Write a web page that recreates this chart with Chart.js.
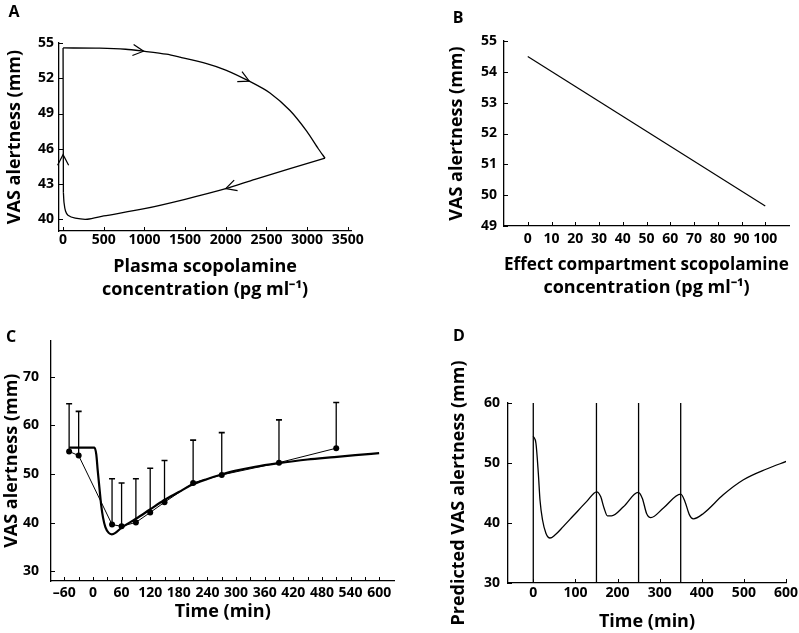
<!DOCTYPE html>
<html>
<head>
<meta charset="utf-8">
<script src="https://cdn.jsdelivr.net/npm/chart.js@4.4.1/dist/chart.umd.min.js"></script>
<style>
  html, body { margin: 0; padding: 0; background: #fff; }
  body { width: 799px; height: 633px; position: relative; overflow: hidden; font-family: "Open Sans", sans-serif; }
  .panel { position: absolute; }
  .panel canvas { display: block; }
  .letter { position: absolute; font: bold 16px "Open Sans", sans-serif; line-height: 1; transform: translate(-50%, -50%); color: #000; }
</style>
</head>
<body>
<div class="panel" style="left:0;top:0;"><canvas id="chartA" width="400" height="310"></canvas></div>
<div class="panel" style="left:400px;top:0;"><canvas id="chartB" width="399" height="310"></canvas></div>
<div class="panel" style="left:0;top:320px;"><canvas id="chartC" width="400" height="313"></canvas></div>
<div class="panel" style="left:400px;top:320px;"><canvas id="chartD" width="420" height="313"></canvas></div>
<div class="letter" style="left:14px;top:11px;">A</div>
<div class="letter" style="left:458px;top:17px;">B</div>
<div class="letter" style="left:11px;top:336px;">C</div>
<div class="letter" style="left:459px;top:335px;">D</div>
<script>
// Panel A: hysteresis loop, plasma concentration (pg/ml) vs VAS alertness (mm)
const loopConc = [0, 450, 770, 990, 1270, 1436, 1765, 2000, 2289, 2544, 2790, 2995, 3138, 3221,
                  2359, 2000, 1500, 1000, 500, 300, 150, 60, 30, 12, 4, 0];
const loopVas  = [54.58, 54.56, 54.47, 54.3, 54.05, 53.8, 53.25, 52.7, 51.75, 50.75, 49.25, 47.5, 46.0, 45.2,
                  43.4, 42.6, 41.7, 40.9, 40.28, 40.0, 40.09, 40.34, 40.7, 41.4, 42.3, 54.58];
const arrowConc = [990, 2289, 2000, 0];
const arrowVas  = [54.3, 51.75, 42.6, 45.5];
const ticksA_x = [0, 500, 1000, 1500, 2000, 2500, 3000, 3500];
const ticksA_y = [40, 43, 46, 49, 52, 55];

// Panel B: effect compartment concentration vs VAS alertness
const effConc = [0, 100];
const effVas  = [54.5, 49.65];
const ticksB_x = [0, 10, 20, 30, 40, 50, 60, 70, 80, 90, 100];
const ticksB_y = [49, 50, 51, 52, 53, 54, 55];

// Panel C: observed means (+SD) and model fit over time
const obsTime = [-50, -30, 40, 60, 90, 120, 150, 210, 270, 390, 510];
const obsMean = [54.66, 53.8, 39.6, 39.26, 40.05, 42.1, 44.2, 48.18, 49.83, 52.35, 55.32];
const obsSd   = [9.8, 9.1, 9.45, 8.9, 9.0, 9.1, 8.6, 8.8, 8.7, 8.8, 9.4];
const modelTime = [-50, 3, 7, 10, 14, 17.5, 21, 26, 33, 39.5, 47, 59, 90, 118, 149, 180, 205, 240, 266,
                   300, 340, 386, 450, 506, 550, 600];
const modelVas  = [55.45, 55.45, 54.0, 50.7, 46.7, 43.4, 41.1, 39.1, 37.9, 37.6, 37.9, 38.9, 40.8, 42.6, 44.6,
                   46.3, 47.7, 49.0, 49.8, 50.7, 51.5, 52.2, 53.0, 53.5, 53.9, 54.3];
const ticksC_x = [-60, -30, 0, 30, 60, 90, 120, 150, 180, 210, 240, 270, 300, 330, 360, 390, 420, 450,
                  480, 510, 540, 570, 600];
const ticksC_y = [30, 40, 50, 60, 70];

// Panel D: predicted VAS with repeated doses
const predTime = [0, 6.4, 12, 16, 22, 30, 39.7, 51.5, 71, 95, 127, 150.5, 160, 168, 176, 186, 214, 249,
                  259, 269, 279, 309, 350, 360, 370.5, 380, 404, 451, 499, 554, 602];
const predVas  = [54.47, 53.25, 48.3, 43.8, 40.5, 38.3, 37.5, 38.0, 39.4, 41.2, 43.6, 45.2, 44.4, 42.5,
                  41.2, 41.2, 42.7, 45.1, 44.1, 41.6, 40.9, 42.5, 44.8, 43.6, 41.4, 40.7, 41.6, 44.7,
                  47.2, 49.0, 50.3];
const doseTimes = [0, 150, 250, 350];
const ticksD_x = [0, 100, 200, 300, 400, 500, 600];
const ticksD_y = [30, 40, 50, 60];

Chart.defaults.font.family = '"Open Sans", sans-serif';
Chart.defaults.color = '#000';

const tickFont = { size: 14, weight: 'bold', lineHeight: 1.2 };
const titleFont = { size: 18, weight: 'bold', lineHeight: 1.25 };

// tick marks in these figures point into the plot area
const inwardTicks = {
  id: 'inwardTicks',
  afterDraw(chart) {
    const ctx = chart.ctx;
    ctx.save();
    ctx.strokeStyle = '#000';
    ctx.lineWidth = 1;
    Object.values(chart.scales).forEach(scale => {
      scale.ticks.forEach(t => {
        const p = Math.round(scale.getPixelForValue(t.value)) + 0.5;
        ctx.beginPath();
        if (scale.isHorizontal()) {
          ctx.moveTo(p, scale.top);
          ctx.lineTo(p, scale.top - 4);
        } else {
          ctx.moveTo(scale.right, p);
          ctx.lineTo(scale.right + 4, p);
        }
        ctx.stroke();
      });
    });
    ctx.restore();
  }
};

// open chevrons along the loop in panel A, pointing in the direction of travel
const loopArrows = {
  id: 'loopArrows',
  afterDatasetsDraw(chart) {
    const xs = chart.scales.x, ys = chart.scales.y, ctx = chart.ctx;
    const pts = loopConc.map((c, i) => ({ x: xs.getPixelForValue(c), y: ys.getPixelForValue(loopVas[i]) }));
    ctx.save();
    ctx.strokeStyle = '#000';
    ctx.lineWidth = 1.2;
    arrowConc.forEach((c, k) => {
      const ax = xs.getPixelForValue(c), ay = ys.getPixelForValue(arrowVas[k]);
      let best = Infinity, ang = 0;
      for (let i = 0; i < pts.length - 1; i++) {
        const a = pts[i], b = pts[i + 1];
        const dx = b.x - a.x, dy = b.y - a.y;
        const len2 = dx * dx + dy * dy || 1;
        const t = Math.max(0, Math.min(1, ((ax - a.x) * dx + (ay - a.y) * dy) / len2));
        const d = Math.hypot(a.x + t * dx - ax, a.y + t * dy - ay);
        if (d < best) { best = d; ang = Math.atan2(dy, dx); }
      }
      const L = 12, spread = 0.48;
      ctx.beginPath();
      ctx.moveTo(ax - L * Math.cos(ang - spread), ay - L * Math.sin(ang - spread));
      ctx.lineTo(ax, ay);
      ctx.lineTo(ax - L * Math.cos(ang + spread), ay - L * Math.sin(ang + spread));
      ctx.stroke();
    });
    ctx.restore();
  }
};

function dash(v) {
  return String(v).replace('-', '\u2013');
}

function axis(min, max, tickValues, fitSize, labelPad, title, titlePad, showLabel) {
  return {
    type: 'linear',
    min: min,
    max: max,
    grid: { display: false, drawTicks: false },
    border: { display: true, color: '#000', width: 1.3 },
    ticks: {
      padding: labelPad,
      color: '#000',
      font: tickFont,
      autoSkip: false,
      maxRotation: 0,
      minRotation: 0,
      callback: v => (showLabel && !showLabel(v)) ? '' : dash(v)
    },
    afterBuildTicks: s => { s.ticks = tickValues.map(v => ({ value: v })); },
    afterFit: s => { if (s.isHorizontal()) s.height = fitSize; else s.width = fitSize; },
    title: { display: true, text: title, color: '#000', font: titleFont, padding: titlePad }
  };
}

function baseOptions(padding, xScale, yScale) {
  return {
    responsive: false,
    animation: false,
    events: [],
    layout: { padding: padding },
    plugins: { legend: { display: false }, tooltip: { enabled: false } },
    scales: { x: xScale, y: yScale }
  };
}

function xy(xsArr, ysArr) {
  return xsArr.map((x, i) => ({ x: x, y: ysArr[i] }));
}

// ---- A ----
// split the loop at its right-hand corner so both arcs can be smoothed without rounding the corners
const turn = loopConc.indexOf(Math.max(...loopConc));
const loopLine = { showLine: true, borderColor: '#000', borderWidth: 1.3, pointRadius: 0, tension: 0.25 };
new Chart(document.getElementById('chartA'), {
  type: 'scatter',
  data: {
    datasets: [
      Object.assign({ data: xy(loopConc.slice(0, turn + 1), loopVas.slice(0, turn + 1)) }, loopLine),
      Object.assign({ data: xy(loopConc.slice(turn, -1), loopVas.slice(turn, -1)) }, loopLine),
      Object.assign({ data: xy(loopConc.slice(-2), loopVas.slice(-2)) }, loopLine)
    ]
  },
  options: baseOptions({ left: 0, top: 43, right: 49, bottom: 0 },
    axis(-50, 3540, ticksA_x, 79, 1, ['Plasma scopolamine', 'concentration (pg ml\u207B\u00B9)'], { top: 0, bottom: 9 }),
    axis(39, 55, ticksA_y, 59, 5, 'VAS alertness (mm)', { top: 4, bottom: 0 })),
  plugins: [inwardTicks, loopArrows]
});

// ---- B ----
new Chart(document.getElementById('chartB'), {
  type: 'scatter',
  data: {
    datasets: [{
      data: xy(effConc, effVas),
      showLine: true, borderColor: '#000', borderWidth: 1.2, pointRadius: 0
    }]
  },
  options: baseOptions({ left: 0, top: 41, right: 10, bottom: 0 },
    axis(-10, 110, ticksB_x, 84, 5, ['Effect compartment scopolamine', 'concentration (pg ml\u207B\u00B9)'], { top: 0, bottom: 11 }),
    axis(49, 55, ticksB_y, 104, 7, 'VAS alertness (mm)', { top: 46, bottom: 0 })),
  plugins: [inwardTicks]
});

// ---- C ----
const stems = [];
obsTime.forEach((t, i) => {
  stems.push({ x: t, y: obsMean[i] }, { x: t, y: obsMean[i] + obsSd[i] }, { x: t, y: NaN });
});
const caps = obsTime.map((t, i) => ({ x: t, y: obsMean[i] + obsSd[i] }));

new Chart(document.getElementById('chartC'), {
  type: 'scatter',
  data: {
    datasets: [
      { data: xy(modelTime, modelVas), showLine: true, borderColor: '#000', borderWidth: 2.2,
        pointRadius: 0, cubicInterpolationMode: 'monotone' },
      { data: xy(obsTime, obsMean), showLine: true, borderColor: '#000', borderWidth: 1,
        pointRadius: 3, pointBackgroundColor: '#000', pointBorderColor: '#000', pointBorderWidth: 0 },
      { data: stems, showLine: true, spanGaps: false, borderColor: '#000', borderWidth: 1.3, pointRadius: 0 },
      { data: caps, showLine: false, pointStyle: 'line', pointRadius: 3, pointBorderColor: '#000',
        pointBorderWidth: 1.6, rotation: 0 }
    ]
  },
  options: baseOptions({ left: 0, top: 12, right: 3, bottom: 0 },
    axis(-88, 632, ticksC_x, 52, 4, 'Time (min)', { top: 0, bottom: 10 }, v => v % 60 === 0),
    axis(28, 77.5, ticksC_y, 51, 12, 'VAS alertness (mm)', { top: 1, bottom: 0 })),
  plugins: [inwardTicks]
});

// ---- D ----
const doseLines = doseTimes.map(t => ({
  data: [{ x: t, y: ticksD_y[0] }, { x: t, y: ticksD_y[ticksD_y.length - 1] }],
  showLine: true, borderColor: '#000', borderWidth: 1.3, pointRadius: 0
}));

new Chart(document.getElementById('chartD'), {
  type: 'scatter',
  data: {
    datasets: [
      { data: xy(predTime, predVas), showLine: true, borderColor: '#000', borderWidth: 1.3,
        pointRadius: 0, cubicInterpolationMode: 'monotone' }
    ].concat(doseLines)
  },
  options: baseOptions({ left: 0, top: 83, right: 34, bottom: 0 },
    axis(-60, 600, ticksD_x, 50, 2, 'Time (min)', { top: 0, bottom: 0 }),
    axis(30, 60, ticksD_y, 108, 8, 'Predicted VAS alertness (mm)', { top: 48, bottom: 0 })),
  plugins: [inwardTicks]
});
</script>
</body>
</html>
